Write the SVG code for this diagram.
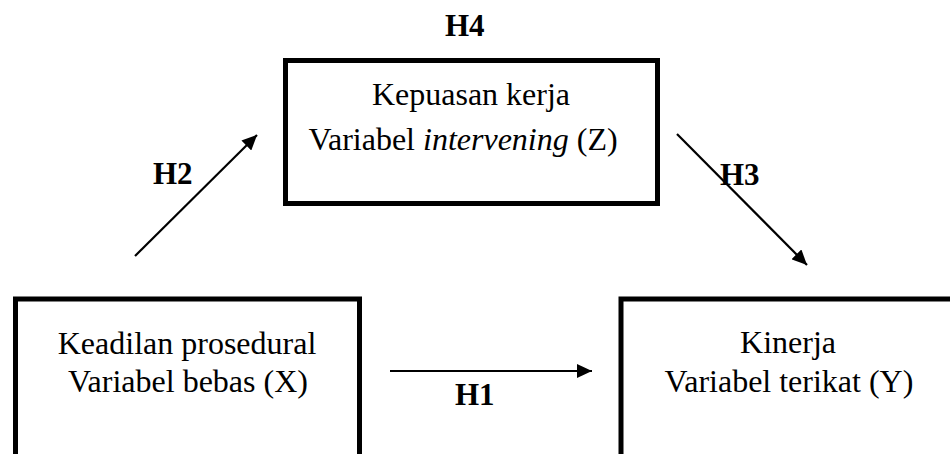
<svg xmlns="http://www.w3.org/2000/svg" width="950" height="454" viewBox="0 0 950 454">
<style>
.box{fill:#fff;stroke:#000;stroke-width:5}
.t{font-family:"Liberation Serif","Times New Roman",serif;font-size:32px;fill:#000;text-anchor:middle}
.h{font-family:"Liberation Serif","Times New Roman",serif;font-size:31px;font-weight:bold;fill:#000}
.c{stroke:#000;stroke-width:2.2;fill:none;marker-end:url(#ah)}
</style>
<defs>
<marker id="ah" markerUnits="userSpaceOnUse" markerWidth="16" markerHeight="14" refX="15" refY="7" orient="auto">
<path d="M0,0 L15,7 L0,14 z" fill="#000"/>
</marker>
</defs>
<rect width="950" height="454" fill="#fff"/>
<g id="node-z">
<rect class="box" x="285.5" y="60.5" width="372" height="143"/>
<text class="t" x="471" y="105">Kepuasan kerja</text>
<text class="t" x="463" y="150">Variabel <tspan font-style="italic">intervening</tspan> (Z)</text>
</g>
<g id="node-x">
<rect class="box" x="15.5" y="299" width="344" height="200"/>
<text class="t" x="187" y="354">Keadilan prosedural</text>
<text class="t" x="188" y="392">Variabel bebas (X)</text>
</g>
<g id="node-y">
<rect class="box" x="621" y="299" width="400" height="200"/>
<text class="t" x="788" y="353">Kinerja</text>
<text class="t" x="789" y="392">Variabel terikat (Y)</text>
</g>
<g id="connectors">
<line class="c" x1="390" y1="371" x2="592" y2="371"/>
<line class="c" x1="135" y1="256" x2="257" y2="135"/>
<line class="c" x1="677" y1="134" x2="807" y2="265"/>
</g>
<g id="labels">
<text class="h" x="445" y="36">H4</text>
<text class="h" x="455" y="405">H1</text>
<text class="h" x="153" y="184">H2</text>
<text class="h" x="720" y="185">H3</text>
</g>
</svg>
